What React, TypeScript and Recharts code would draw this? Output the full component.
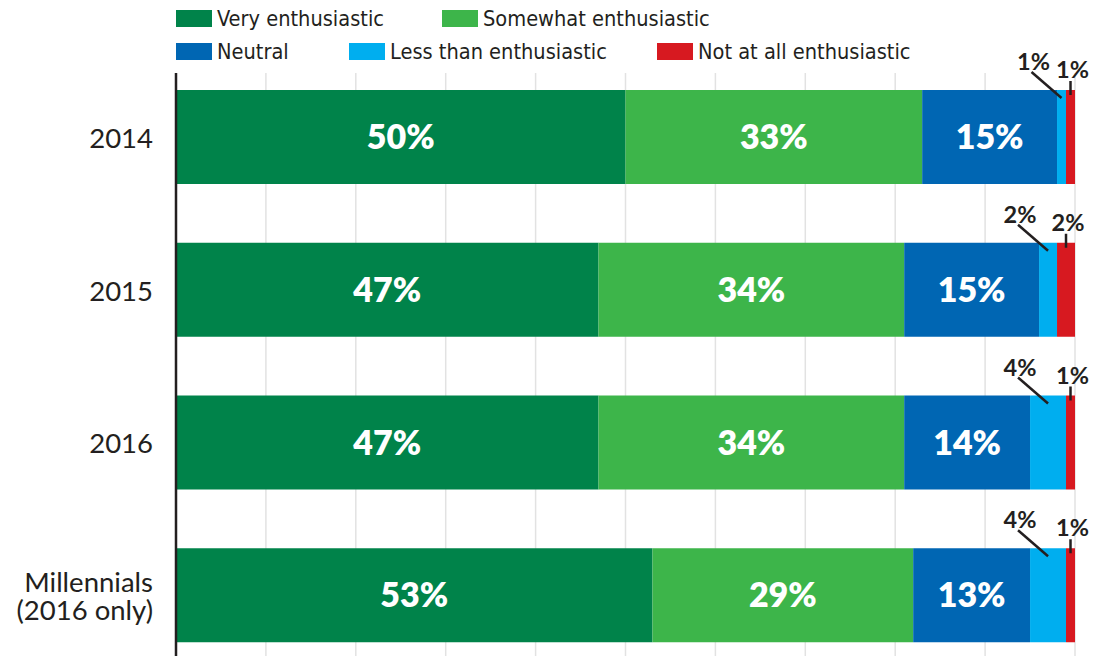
import React from 'react';
import { BarChart, Bar, XAxis, YAxis, CartesianGrid, LabelList } from 'recharts';

const categories = ['2014', '2015', '2016', 'Millennials\n(2016 only)'];
const veryEnthusiastic = [50, 47, 47, 53];
const somewhatEnthusiastic = [33, 34, 34, 29];
const neutral = [15, 15, 14, 13];
const lessThanEnthusiastic = [1, 2, 4, 4];
const notAtAllEnthusiastic = [1, 2, 1, 1];
const xTicks = [0, 10, 20, 30, 40, 50, 60, 70, 80, 90, 100];

const series = [
  { key: 'very', name: 'Very enthusiastic', color: '#00834a', values: veryEnthusiastic },
  { key: 'somewhat', name: 'Somewhat enthusiastic', color: '#3db54a', values: somewhatEnthusiastic },
  { key: 'neutral', name: 'Neutral', color: '#0066b3', values: neutral },
  { key: 'less', name: 'Less than enthusiastic', color: '#00aeef', values: lessThanEnthusiastic },
  { key: 'notAtAll', name: 'Not at all enthusiastic', color: '#d71920', values: notAtAllEnthusiastic },
];

const data = categories.map((name, i) => {
  const row: any = { name };
  series.forEach((s) => { row[s.key] = s.values[i]; });
  return row;
});

const INK = '#231f20';
const SANS = 'Lato, "Open Sans", sans-serif';
const NARROW = '"Liberation Sans Narrow", "DejaVu Sans Condensed", sans-serif';

// legend rows as in the original: first two, then three
const legendRows = [
  { top: 8, items: [{ i: 0, left: 176 }, { i: 1, left: 442 }] },
  { top: 41, items: [{ i: 2, left: 176 }, { i: 3, left: 349 }, { i: 4, left: 657 }] },
];

const Legend = () => (
  <>
    {legendRows.map((row) =>
      row.items.map(({ i, left }) => (
        <div key={series[i].key} style={{ position: 'absolute', top: row.top, left, display: 'flex', alignItems: 'center', height: 20 }}>
          <span style={{ width: 36, height: 17, background: series[i].color, marginRight: 5 }} />
          <span style={{ fontFamily: NARROW, fontSize: 21.6, color: INK, whiteSpace: 'nowrap' }}>{series[i].name}</span>
        </div>
      ))
    )}
  </>
);

const YTick = ({ x, y, payload }: any) => {
  const lines = String(payload.value).split('\n');
  const lh = 28;
  const start = y - ((lines.length - 1) * lh) / 2;
  return (
    <g>
      {lines.map((l, k) => (
        <text key={k} x={x} y={start + k * lh} textAnchor="end" dominantBaseline="central" fill={INK} fontFamily={SANS} fontSize={27.5}>
          {l}
        </text>
      ))}
    </g>
  );
};

// small segment: label up and left, with a slanted leader line
const LessLabel = ({ x, y, width, value }: any) => {
  const cx = x + width / 2;
  return (
    <g>
      <line x1={cx - 30} y1={y - 18} x2={cx} y2={y + 8} stroke={INK} strokeWidth={2.5} />
      <text x={cx - 28} y={y - 29} textAnchor="middle" dominantBaseline="central" fill={INK} fontFamily={SANS} fontWeight={700} fontSize={23.5}>
        {`${value}%`}
      </text>
    </g>
  );
};

// tiny end segment: label straight above, short vertical tick
const NotAtAllLabel = ({ x, y, width, value }: any) => {
  const cx = x + width / 2;
  return (
    <g>
      <line x1={cx} y1={y - 9} x2={cx} y2={y + 5} stroke={INK} strokeWidth={2.5} />
      <text x={cx + 2} y={y - 21} textAnchor="middle" dominantBaseline="central" fill={INK} fontFamily={SANS} fontWeight={700} fontSize={23.5}>
        {`${value}%`}
      </text>
    </g>
  );
};

export default function App() {
  return (
    <div style={{ position: 'absolute', left: 0, top: 0, width: 1100, height: 656, overflow: 'hidden', background: '#fff' }}>
      <Legend />
      <BarChart width={1100} height={700} data={data} layout="vertical" margin={{ top: 73, right: 25, left: 0, bottom: 0 }}>
        <CartesianGrid horizontal={false} stroke="#e2e2e2" strokeWidth={1.5} />
        <XAxis type="number" domain={[0, 100]} ticks={xTicks} hide />
        <YAxis
          type="category"
          dataKey="name"
          width={176}
          padding={{ top: -12, bottom: 28 }}
          axisLine={{ stroke: INK, strokeWidth: 2.5 }}
          tickLine={false}
          tickMargin={17}
          tick={<YTick />}
        />
        {series.map((s) => (
          <Bar key={s.key} dataKey={s.key} name={s.name} stackId="a" fill={s.color} barSize={94} isAnimationActive={false}>
            {s.key === 'less' ? (
              <LabelList dataKey={s.key} content={<LessLabel />} />
            ) : s.key === 'notAtAll' ? (
              <LabelList dataKey={s.key} content={<NotAtAllLabel />} />
            ) : (
              <LabelList dataKey={s.key} position="center" formatter={(v: any) => `${v}%`} fill="#fff" fontFamily={SANS} fontWeight={800} fontSize={34} />
            )}
          </Bar>
        ))}
      </BarChart>
    </div>
  );
}
